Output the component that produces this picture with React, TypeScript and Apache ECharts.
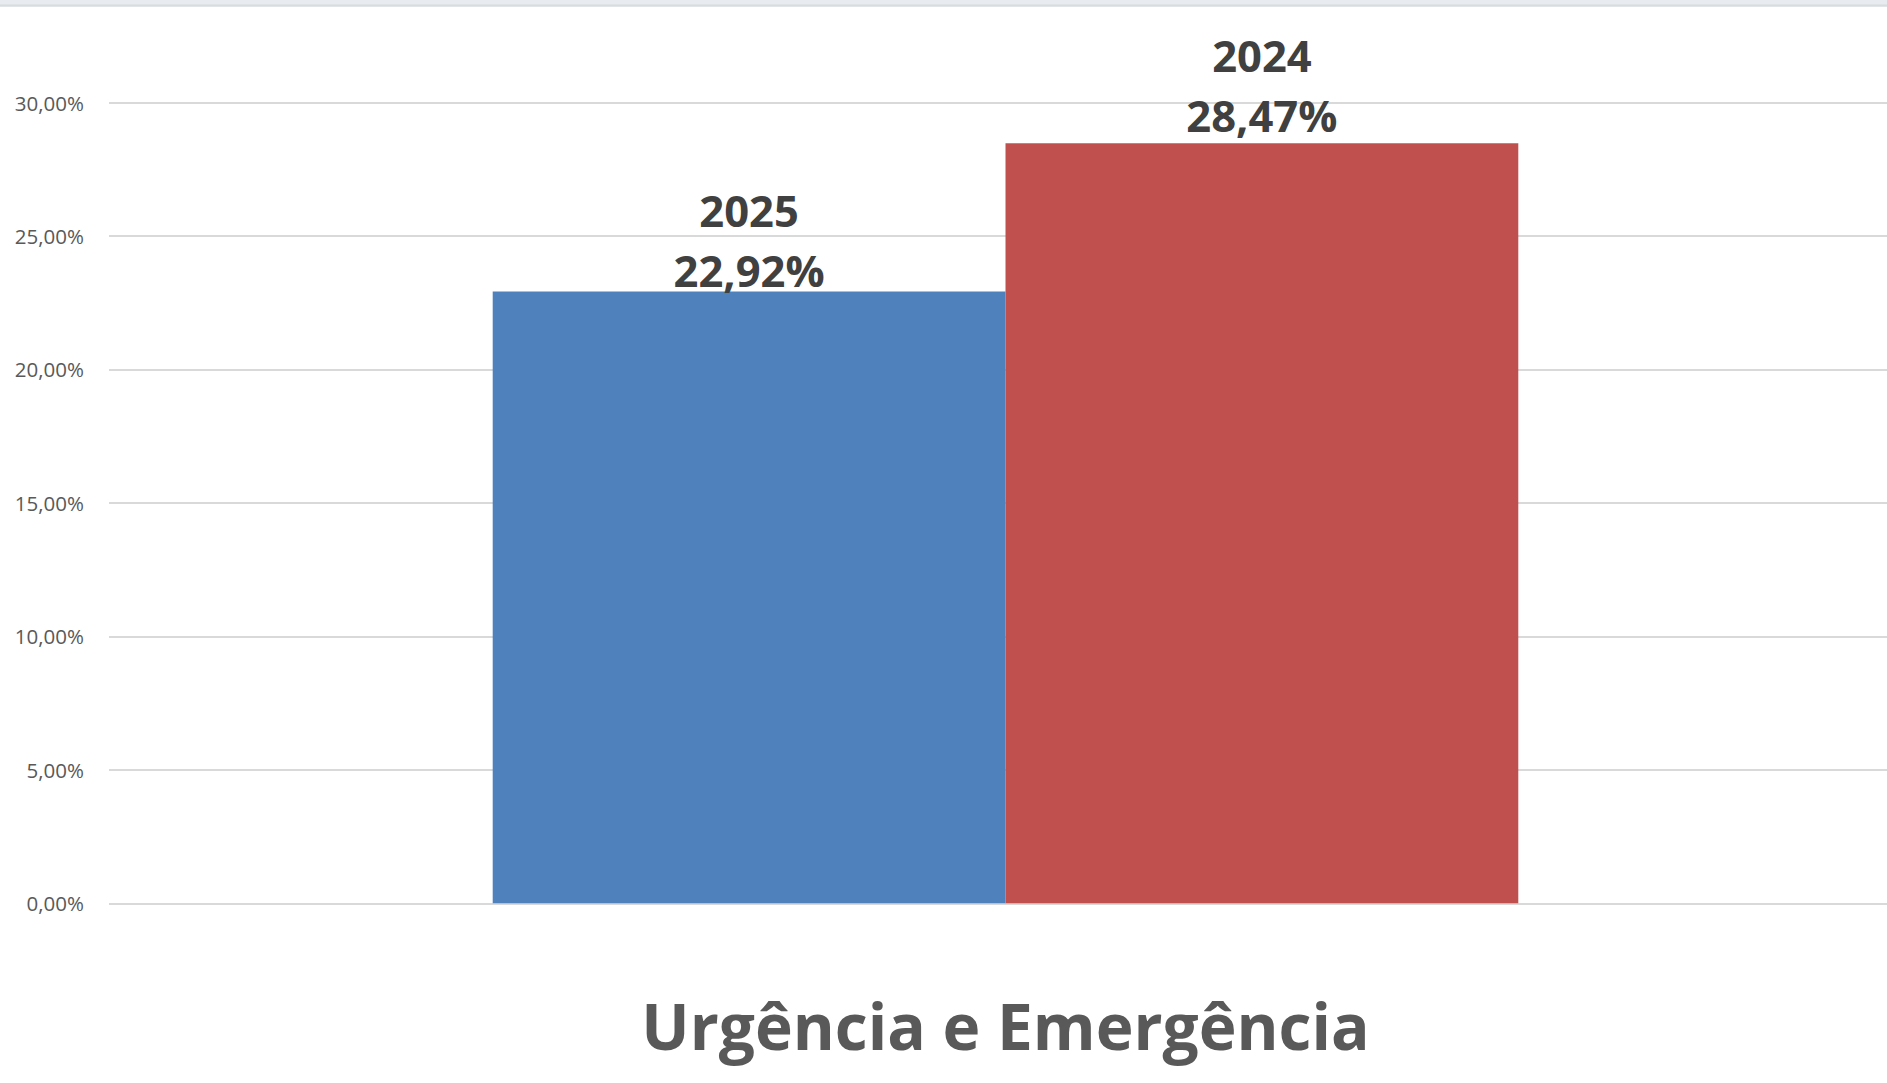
import React, { useEffect, useRef } from "react";
import * as echarts from "echarts";

const categories = ["Urgência e Emergência"];
const seriesNames = ["2025", "2024"];
const seriesValues = [[22.92], [28.47]];
const seriesColors = ["#4f81bd", "#c0504d"];
const labelDistances = [-9.5, -2];
const yTicks = { min: 0, max: 30, interval: 5 };

const fmt = (v: number) => v.toFixed(2).replace(".", ",") + "%";

export default function App() {
  const ref = useRef<HTMLDivElement>(null);
  useEffect(() => {
    document.body.style.margin = "0";
    document.body.style.overflow = "hidden";
    if (!ref.current) return;
    const chart = echarts.init(ref.current, undefined, { renderer: "svg" });
    chart.setOption({
      animation: false,
      backgroundColor: "#ffffff",
      grid: { left: 109, right: 0, top: 102.5, bottom: 179.7, containLabel: false },
      xAxis: {
        type: "category",
        data: categories,
        axisLine: { show: false },
        axisTick: { show: false },
        axisLabel: {
          margin: 90,
          fontFamily: "Open Sans",
          fontWeight: "bold",
          fontSize: 64,
          lineHeight: 64,
          color: "#595959",
        },
      },
      yAxis: {
        type: "value",
        min: yTicks.min,
        max: yTicks.max,
        interval: yTicks.interval,
        axisLine: { show: false },
        axisTick: { show: false },
        splitLine: { show: true, lineStyle: { color: "#d9d9d9", width: 2 } },
        axisLabel: {
          margin: 25,
          fontFamily: "Open Sans",
          fontSize: 20.5,
          color: "#595959",
          formatter: (v: number) => fmt(v),
        },
      },
      series: seriesNames.map((name, i) => ({
        type: "bar",
        name,
        data: seriesValues[i],
        barGap: "0%",
        barCategoryGap: "42.8%",
        itemStyle: { color: seriesColors[i] },
        label: {
          show: true,
          position: "top",
          distance: labelDistances[i],
          fontFamily: "Open Sans",
          fontWeight: "bold",
          fontSize: 43.5,
          lineHeight: 60,
          color: "#404040",
          formatter: (p: any) => `${p.seriesName}\n${fmt(p.value)}`,
        },
      })),
      graphic: [
        {
          type: "rect",
          left: 0,
          top: 0,
          shape: { x: 0, y: 0, width: 1887, height: 4.5 },
          style: { fill: "#e8ecf0" },
          z: 100,
        },
        {
          type: "rect",
          left: 0,
          top: 4.3,
          shape: { x: 0, y: 0, width: 1887, height: 2.4 },
          style: { fill: "#d9dcdf" },
          z: 100,
        },
      ],
    });
    return () => chart.dispose();
  }, []);
  return (
    <div style={{ position: "absolute", left: 0, top: 0, width: 1887, height: 1083, overflow: "hidden" }}>
      <div ref={ref} style={{ position: "absolute", left: 0, top: 0, width: 1902, height: 1083 }} />
    </div>
  );
}
